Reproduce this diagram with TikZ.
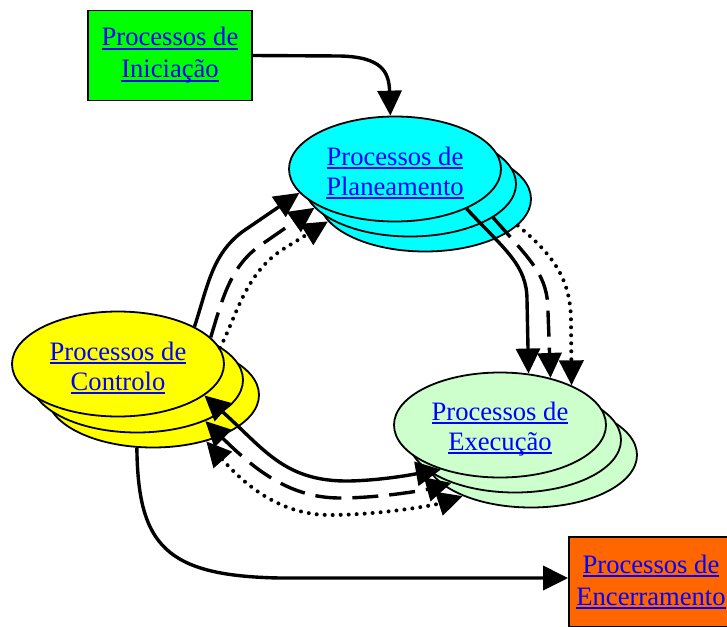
\documentclass[tikz,border=0pt]{standalone}
\usepackage{fontspec}
\setmainfont{Liberation Serif}
\usetikzlibrary{shapes.geometric,arrows.meta}
\definecolor{linkblue}{RGB}{0,0,255}
\definecolor{planfill}{RGB}{0,255,255}
\definecolor{ctrlfill}{RGB}{255,255,0}
\definecolor{execfill}{RGB}{204,255,204}
\definecolor{inifill}{RGB}{0,255,0}
\definecolor{encfill}{RGB}{255,102,0}
% underlined hyperlink-style text
\newcommand\lnk[1]{\setbox0\hbox{#1}\rlap{\rule[-3.8pt]{\wd0}{2pt}}\box0}
% tall strut that lowers the two-line label inside an ellipse
\newcommand\topgap{\rule{0pt}{26pt}}

\begin{document}
\begin{tikzpicture}[x=1pt,y=-1pt,
  >={Triangle[length=25pt,width=24pt]},
  linktext/.style={text=linkblue, align=center,
    font=\fontsize{26.6pt}{30pt}\selectfont},
  proc/.style={ellipse, draw, line width=1.8pt, minimum width=212pt,
    minimum height=105pt, inner sep=0pt},
  procbox/.style={rectangle, draw, line width=1.8pt, minimum width=164pt,
    minimum height=90pt, inner sep=0pt, text=linkblue, align=center,
    font=\fontsize{26.6pt}{32pt}\selectfont},
  conn/.style={line width=3.4pt, ->},
  twoway/.style={line width=3.4pt, <->},
  dashline/.style={dash pattern=on 26pt off 11pt},
  dotline/.style={line width=4pt, dash pattern=on 0pt off 8pt, line cap=round},
]
\useasboundingbox (0,0) rectangle (727,626);

% process groups: three stacked ellipses each
\node[proc, fill=planfill] (p3) at (425,199) {};
\node[proc, fill=planfill] (p2) at (410,184) {};
\node[proc, fill=planfill, linktext] (p1) at (395,169)
  {\topgap\lnk{Processos de}\\\lnk{Planeamento}};

\node[proc, fill=ctrlfill] (c3) at (153,395) {};
\node[proc, fill=ctrlfill] (c2) at (137,380) {};
\node[proc, fill=ctrlfill, linktext] (c1) at (118,364)
  {\topgap\lnk{Processos de}\\\lnk{Controlo}};

\node[proc, fill=execfill] (e3) at (531,455) {};
\node[proc, fill=execfill] (e2) at (515,440) {};
\node[proc, fill=execfill, linktext] (e1) at (500,425)
  {\topgap\lnk{Processos de}\\\lnk{Execução}};

% start and end boxes
\node[procbox, fill=inifill] (ini) at (170,55.5)
  {\lnk{Processos de}\\\lnk{Iniciação}};
\node[procbox, fill=encfill] (enc) at (651,582)
  {\lnk{Processos de}\\\lnk{Encerramento}};

% initiation -> planning
\draw[conn] (ini.east) -- (340,56) .. controls (382,57) and (389,72) .. (p1.95);

% planning -> execution
\draw[conn] (p1.-29) .. controls (505,250) and (527,265) .. (527,300) -- (e1.61);
\draw[conn, dashline] (p2.-22) .. controls (532,262) and (548,275) .. (548,312) -- (e1.43);
\draw[conn, dotline] (p3.-16) .. controls (556,257) and (571,282) .. (571,322) -- (e1.29);

% control -> planning
\draw[conn] (c1.26) .. controls (208,285) and (212,255) .. (242,232) -- (p1.194);
\draw[conn, dashline] (c1.16) .. controls (222,300) and (230,268) .. (258,247) -- (p2.194);
\draw[conn, dotline] (c1.9) .. controls (236,318) and (245,272) .. (285,248) -- (p3.193);

% control <-> execution
\draw[twoway] (c1.-20) .. controls (265,450) and (285,482) .. (350,481)
  .. controls (385,480) and (415,474) .. (e1.217);
\draw[twoway, dashline] (c2.-31) .. controls (255,470) and (290,498) .. (340,498)
  .. controls (380,498) and (425,490) .. (e2.214);
\draw[twoway, dotline] (c3.-41) .. controls (245,485) and (280,515) .. (330,515)
  .. controls (380,515) and (435,505) .. (e3.211);

% control -> closing
\draw[conn] (c3.-107) .. controls (138,545) and (165,576) .. (280,578)
  -- ([yshift=4pt]enc.west);
\end{tikzpicture}
\end{document}
